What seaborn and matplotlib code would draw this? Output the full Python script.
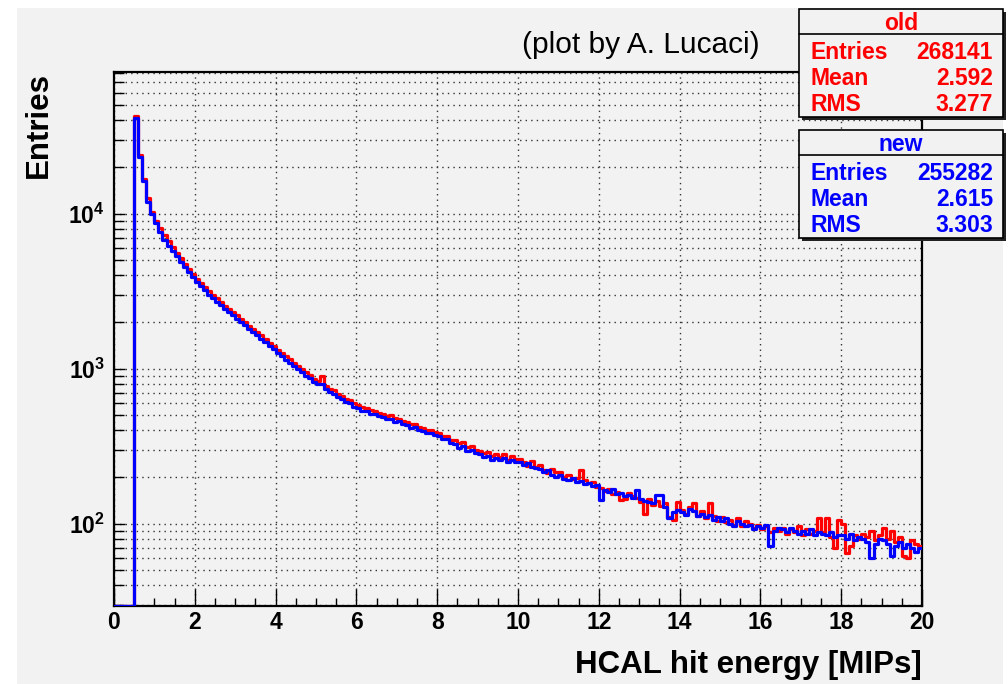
import numpy as np
import pandas as pd
import matplotlib
matplotlib.use("Agg")
import matplotlib.pyplot as plt
import seaborn as sns
from matplotlib.patches import Rectangle
from matplotlib.lines import Line2D
from matplotlib.ticker import FixedLocator, MultipleLocator, LogLocator, NullFormatter

# ---------------- data ----------------
bin_width = 0.1
x_range = [0.0, 20.0]
y_range = [29.4, 81800.0]

# counts per 0.1 bin, 0.0 .. 20.0
old_counts = [
    0, 0, 0, 0, 0,
    42500, 24000, 16800, 12600, 10300,
    9000, 8050, 7250, 6600, 6080,
    5560, 5140, 4720, 4400, 4090,
    3780, 3560, 3360, 3150, 2990,
    2830, 2690, 2550, 2430, 2310,
    2200, 2100, 1990, 1890, 1800,
    1720, 1640, 1550, 1470, 1400,
    1320, 1260, 1200, 1150, 1090,
    1045, 1000, 950, 915, 860,
    835, 900, 770, 740, 725,
    690, 668, 640, 628, 600,
    585, 562, 560, 538, 535,
    515, 512, 492, 498, 478,
    476, 458, 455, 436, 440,
    418, 416, 402, 400, 388,
    384, 366, 368, 348, 344,
    330, 338, 312, 318, 300,
    296, 284, 290, 272, 282,
    268, 280, 258, 272, 260,
    262, 248, 235, 252, 230,
    238, 222, 212, 226, 216,
    216, 200, 206, 194, 198,
    221, 190, 182, 186, 172,
    170, 162, 168, 155, 160,
    142, 145, 158, 150, 146,
    138, 116, 145, 132, 140,
    130, 135, 110, 106, 138,
    122, 116, 128, 135, 112,
    120, 108, 135, 112, 104,
    110, 102, 106, 98, 108,
    96, 104, 100, 94, 98,
    92, 96, 88, 94, 90,
    94, 86, 92, 88, 96,
    84, 92, 86, 90, 108,
    88, 108, 82, 70, 105,
    100, 65, 72, 84, 80,
    86, 82, 90, 78, 84,
    93, 80, 90, 76, 82,
    62, 60, 78, 74, 72,
]

new_counts = [
    0, 0, 0, 0, 0,
    41500, 23200, 16200, 11900, 10000,
    8650, 7640, 6750, 6200, 5750,
    5300, 4900, 4500, 4200, 3900,
    3600, 3400, 3200, 3000, 2850,
    2700, 2560, 2430, 2320, 2200,
    2100, 2000, 1900, 1800, 1720,
    1640, 1560, 1480, 1400, 1330,
    1260, 1200, 1140, 1090, 1040,
    990, 955, 900, 870, 820,
    800, 790, 735, 705, 690,
    655, 640, 605, 595, 565,
    560, 535, 535, 510, 508,
    492, 490, 470, 475, 455,
    458, 436, 435, 415, 418,
    400, 398, 385, 382, 370,
    368, 350, 350, 332, 328,
    305, 315, 296, 300, 284,
    282, 270, 272, 258, 266,
    256, 264, 250, 258, 248,
    250, 240, 245, 232, 228,
    225, 215, 220, 205, 200,
    205, 195, 190, 198, 186,
    188, 180, 184, 176, 178,
    142, 165, 160, 168, 155,
    158, 150, 152, 146, 164,
    145, 140, 138, 135, 153,
    153, 128, 108, 118, 122,
    118, 114, 125, 120, 112,
    116, 110, 114, 106, 110,
    104, 108, 100, 96, 104,
    100, 96, 98, 92, 96,
    94, 98, 72, 90, 93,
    92, 88, 94, 90, 86,
    90, 86, 92, 84, 88,
    86, 84, 88, 82, 85,
    84, 80, 86, 78, 82,
    80, 76, 60, 74, 80,
    78, 74, 62, 72, 76,
    70, 74, 70, 66, 70,
]

x_tick_values = [0, 2, 4, 6, 8, 10, 12, 14, 16, 18, 20]
y_tick_values = [1e2, 1e3, 1e4]
y_tick_labels = [r"$\mathbf{10^{2}}$", r"$\mathbf{10^{3}}$", r"$\mathbf{10^{4}}$"]

series_names = ["old", "new"]
series_colors = ["#ff0000", "#0000ff"]
stat_names = ["Entries", "Mean", "RMS"]
old_stat_values = ["268141", "2.592", "3.277"]
new_stat_values = ["255282", "2.615", "3.303"]

x_title = "HCAL hit energy [MIPs]"
y_title = "Entries"
credit = "(plot by A. Lucaci)"

# ---------------- style ----------------
sns.set_style("ticks")
plt.rcParams["font.family"] = ["Liberation Sans", "DejaVu Sans"]
plt.rcParams["mathtext.fontset"] = "custom"
plt.rcParams["mathtext.rm"] = "Liberation Sans"
plt.rcParams["mathtext.bf"] = "Liberation Sans:bold"
plt.rcParams["mathtext.it"] = "Liberation Sans:italic"
for key in ["text.color", "axes.labelcolor", "xtick.color", "ytick.color",
            "xtick.labelcolor", "ytick.labelcolor"]:
    plt.rcParams[key] = "black"

W, H = 1008, 684
BG = "#f2f2f2"
fig = plt.figure(figsize=(W / 100, H / 100), dpi=100)
fig.patch.set_facecolor("white")


def fx(px):
    return px / W


def fy(py):
    return 1 - py / H


# gray canvas
fig.add_artist(Rectangle((fx(17), 0), fx(1003) - fx(17), fy(8), transform=fig.transFigure,
                         facecolor=BG, edgecolor="none", zorder=-10))

ax_l, ax_r, ax_t, ax_b = 114, 922, 72, 606
ax = fig.add_axes([fx(ax_l), fy(ax_b), fx(ax_r) - fx(ax_l), fy(ax_t) - fy(ax_b)])
ax.set_facecolor(BG)

edges = np.round(np.arange(x_range[0], x_range[1] + bin_width / 2, bin_width), 6)
centers = edges[:-1] + bin_width / 2

for name, counts, col in zip(series_names, [old_counts, new_counts], series_colors):
    c = np.asarray(counts, dtype=float)
    df = pd.DataFrame({"energy": centers, "entries": np.where(c > 0, c, y_range[0])})
    sns.histplot(data=df, x="energy", weights="entries", bins=edges.tolist(), element="step",
                 fill=False, color=col, linewidth=2.3, ax=ax, zorder=3)

ax.set_yscale("log")
ax.set_xlim(*x_range)
ax.set_ylim(*y_range)

# ticks
ax.xaxis.set_major_locator(FixedLocator(x_tick_values))
ax.xaxis.set_minor_locator(MultipleLocator(0.5))
ax.set_xticklabels([str(v) for v in x_tick_values])
ax.yaxis.set_major_locator(FixedLocator(y_tick_values))
ax.set_yticklabels(y_tick_labels)
ax.yaxis.set_minor_locator(LogLocator(base=10, subs=np.arange(2, 10)))
ax.yaxis.set_minor_formatter(NullFormatter())

ax.tick_params(axis="x", which="major", direction="in", length=12, width=1.0,
               labelsize=16.5, pad=3.5, top=False, color="black", labelcolor="black")
ax.tick_params(axis="x", which="minor", direction="in", length=6, width=1.0, top=False,
               color="black")
ax.tick_params(axis="y", which="major", direction="in", length=8, width=1.0,
               labelsize=16.5, pad=6.5, right=False, color="black", labelcolor="black")
ax.tick_params(axis="y", which="minor", direction="in", length=7, width=1.0, right=False,
               color="black")
for lab in ax.get_xticklabels():
    lab.set_fontweight("bold")

for sp in ax.spines.values():
    sp.set_visible(True)
    sp.set_linewidth(1.6)
    sp.set_color("black")

ax.grid(which="major", axis="x", color="#333333", linestyle=(0, (1, 3)), linewidth=1.0)
ax.grid(which="both", axis="y", color="#333333", linestyle=(0, (1, 3)), linewidth=1.0)
ax.set_axisbelow(True)

# titles
ax.set_xlabel(x_title, fontsize=22.5, fontweight="bold", color="black")
ax.xaxis.label.set_rotation_mode("anchor")
ax.xaxis.label.set_ha("right")
ax.xaxis.label.set_va("baseline")
ax.xaxis.set_label_coords(1.0, -(673 - ax_b) / (ax_b - ax_t))

ax.set_ylabel(y_title, fontsize=22.5, fontweight="bold", color="black")
ax.yaxis.label.set_rotation_mode("anchor")
ax.yaxis.label.set_ha("right")
ax.yaxis.label.set_va("baseline")
ax.yaxis.set_label_coords((47 - ax_l) / (ax_r - ax_l), 1.0)

fig.text(fx(641), fy(45), credit, fontsize=21.5, ha="center", va="center", color="black")


# stats boxes
def stat_box(top, title, values, col):
    left, right, bottom = 799, 1003, top + 108
    sep = top + 25
    fig.add_artist(Rectangle((fx(left + 3), fy(bottom + 3)), fx(right) - fx(left), fy(top) - fy(bottom),
                             transform=fig.transFigure, facecolor="#222222", edgecolor="none", zorder=4))
    fig.add_artist(Rectangle((fx(left), fy(bottom)), fx(right) - fx(left), fy(top) - fy(bottom),
                             transform=fig.transFigure, facecolor=BG, edgecolor="black",
                             linewidth=1.2, zorder=5))
    fig.add_artist(Line2D([fx(left), fx(right)], [fy(sep), fy(sep)], transform=fig.transFigure,
                          color="black", linewidth=1.2, zorder=6))
    fig.text(fx((left + right) / 2), fy(top + 21), title, color=col, fontsize=16.5,
             fontweight="bold", ha="center", va="baseline", zorder=7)
    for i, (nm, val) in enumerate(zip(stat_names, values)):
        yb = top + 50 + 26 * i
        fig.text(fx(810), fy(yb), nm, color=col, fontsize=16.5, fontweight="bold",
                 ha="left", va="baseline", zorder=7)
        fig.text(fx(993), fy(yb), val, color=col, fontsize=16.5, fontweight="bold",
                 ha="right", va="baseline", zorder=7)


stat_box(9, series_names[0], old_stat_values, series_colors[0])
stat_box(130, series_names[1], new_stat_values, series_colors[1])

fig.savefig("out.png", dpi=100, facecolor=fig.get_facecolor())
